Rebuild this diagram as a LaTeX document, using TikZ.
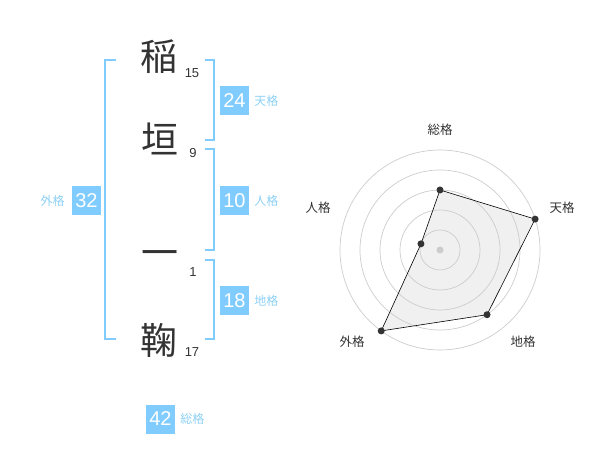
\documentclass[tikz,border=0pt]{standalone}
\usepackage{fontspec}
\setmainfont{Liberation Sans}
\newfontfamily\jp{Noto Sans CJK JP}
\usetikzlibrary{positioning,calc}
\definecolor{kakublue}{HTML}{80CCFF}
\definecolor{kakutext}{HTML}{8DD0F5}
\definecolor{inkgray}{HTML}{333333}
\definecolor{ringgray}{HTML}{CCCCCC}
\definecolor{areagray}{HTML}{F0F0F0}

\begin{document}
\begin{tikzpicture}[x=1pt, y=-1pt,
    kanji/.style={inner sep=0pt, text=inkgray, font=\jp\fontsize{37}{37}\selectfont},
    strokes/.style={inner sep=0pt, text=inkgray, font=\fontsize{13}{13}\selectfont},
    kakubox/.style={fill=kakublue, text=white, minimum size=29pt, inner sep=0pt, font=\fontsize{20}{20}\selectfont},
    kakulabel/.style={inner sep=0pt, text=kakutext, font=\jp\fontsize{12}{12}\selectfont},
    bracket/.style={draw=kakublue, line width=2pt},
    ring/.style={draw=ringgray, line width=0.7pt},
    axislabel/.style={inner sep=0pt, text=inkgray, font=\jp\fontsize{12.5}{12.5}\selectfont},
    dot/.style={circle, fill=inkgray, inner sep=0pt, minimum size=7pt},
    node distance=5pt]
  \useasboundingbox (0,0) rectangle (600,470);

  % name characters and stroke counts
  \node[kanji] (k1) at (159,57) {稲};
  \node[kanji] (k2) at (160,139) {垣};
  \node[kanji] (k3) at (160,259) {一};
  \node[kanji] (k4) at (159,340) {鞠};
  \node[strokes] (n1) at (192,73) {15};
  \node[strokes] (n2) at (193,153) {9};
  \node[strokes] (n3) at (193,272) {1};
  \node[strokes] (n4) at (192,352) {17};

  % brackets
  \draw[bracket] (116,60) -- (105,60) -- (105,339) -- (116,339);
  \draw[bracket] (205,60) -- (214,60) -- (214,140) -- (205,140);
  \draw[bracket] (205,149) -- (214,149) -- (214,250) -- (205,250);
  \draw[bracket] (205,260) -- (214,260) -- (214,339) -- (205,339);

  % kaku values
  \node[kakubox] (ten) at (234.5,100.5) {24};
  \node[kakulabel, right=of ten] (tenl) {天格};
  \node[kakubox] (jin) at (234.5,200.5) {10};
  \node[kakulabel, right=of jin] (jinl) {人格};
  \node[kakubox] (chi) at (234.5,300.5) {18};
  \node[kakulabel, right=of chi] (chil) {地格};
  \node[kakubox] (gai) at (86.5,200.5) {32};
  \node[kakulabel, left=7pt of gai] (gail) {外格};
  \node[kakubox] (sou) at (160.5,419) {42};
  \node[kakulabel, right=of sou] (soul) {総格};

  % radar chart
  \coordinate (c) at (440,250);
  \foreach [count=\i] \ang/\val/\name/\lx/\ly in
      {90/60/総格/440/130, 18/100/天格/562/208, -54/80/地格/523/342,
       -126/100/外格/352/342, 162/20/人格/318/208} {
    \coordinate (v\i) at ($(c)+(-\ang:\val)$);
    \node[axislabel] (a\i) at (\lx,\ly) {\name};
  }
  \fill[areagray] (v1) -- (v2) -- (v3) -- (v4) -- (v5) -- cycle;
  \foreach \r in {20,40,...,100}
    \draw[ring] (c) circle[radius=\r];
  \draw[black, line width=0.6pt]
    (v1) -- (v2) -- (v3) -- (v4) -- (v5) -- cycle;
  \node[dot, fill=ringgray] (origin) at (c) {};
  \foreach \i in {1,...,5}
    \node[dot] (p\i) at (v\i) {};
\end{tikzpicture}
\end{document}
